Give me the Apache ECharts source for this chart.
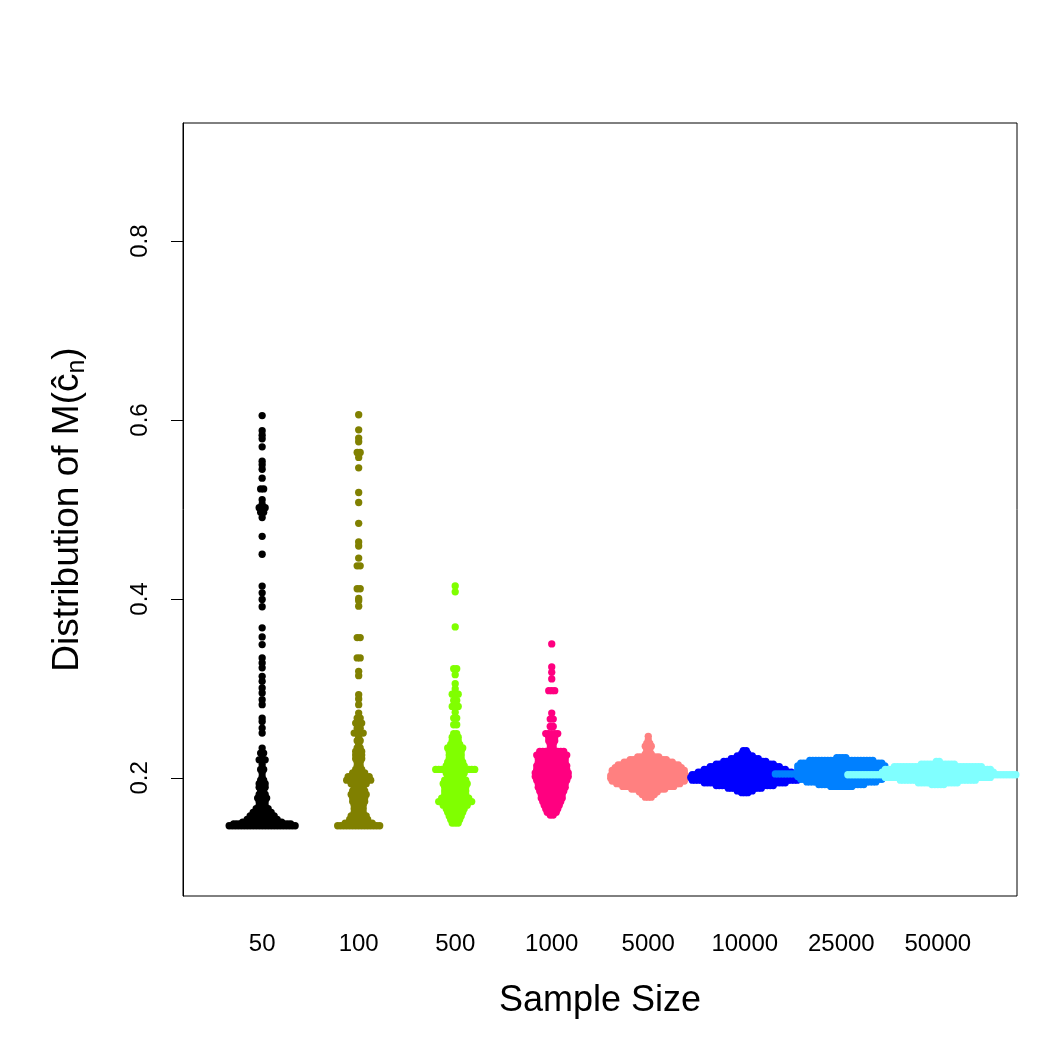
<!DOCTYPE html>
<html>
<head>
<meta charset="utf-8">
<script src="https://cdn.jsdelivr.net/npm/echarts/dist/echarts.min.js"></script>
<style>
html,body{margin:0;padding:0;background:#fff}
#main{width:1050px;height:1050px}
</style>
</head>
<body>
<div id="main"></div>
<script>
// sample sizes (x categories) and y tick values
var sizeLabels = ['50', '100', '500', '1000', '5000', '10000', '25000', '50000'];
var yTicks = [0.2, 0.4, 0.6, 0.8];

// dense part of each swarm: value levels and number of points at each level
// tail: single values (repeated value = points side by side)
var lev50 = [0.1465,0.1485,0.1505,0.1535,0.1575,0.1615,0.1655,0.1695,0.1735,0.1775,0.1815,0.1855,0.1895,0.1935,0.1975,0.2015,0.2055,0.2095];
var cnt50 = [23,20,14,11,9,7,5,3,3,4,3,2,3,3,2,1,1,2];
var tail50 = [0.2146,0.2202,0.2202,0.2202,0.222,0.2277,0.2277,0.2333,0.2501,0.2557,0.2631,0.2669,0.2818,0.2874,0.295,0.3005,0.308,0.3135,0.323,0.3285,0.334,0.349,0.3576,0.3677,0.3913,0.3994,0.4069,0.4144,0.450,0.470,0.491,0.497,0.497,0.502,0.502,0.502,0.506,0.511,0.523,0.523,0.535,0.545,0.550,0.554,0.570,0.579,0.583,0.588,0.605];

var lev100 = [0.1465,0.1495,0.1535,0.1575,0.1615,0.1655,0.1695,0.1735,0.1775,0.1815,0.1855,0.1895,0.1935,0.1975,0.2015,0.2055,0.2095,0.2135,0.2175,0.2215,0.2255,0.2295,0.2335,0.2375,0.2415,0.2455,0.2501,0.2555,0.2613,0.2669];
var cnt100 = [15,10,7,6,4,4,4,5,5,6,5,4,6,9,8,5,3,2,2,3,3,3,2,1,2,1,4,2,3,2];
var tail100 = [0.2725,0.2818,0.2882,0.293,0.3143,0.3191,0.3341,0.3341,0.3569,0.3569,0.392,0.398,0.4005,0.4114,0.4114,0.437,0.437,0.4457,0.4592,0.4637,0.4846,0.5078,0.519,0.5466,0.5582,0.5638,0.5638,0.5757,0.5798,0.5891,0.6059];

var lev500 = [0.1495,0.1535,0.1575,0.1615,0.1655,0.1695,0.1735,0.1775,0.1815,0.1855,0.1895,0.1935,0.1975,0.2015,0.2055,0.2095,0.2135,0.2175,0.2215,0.2255,0.2295,0.2335,0.2375,0.2415,0.2455,0.2495];
var cnt500 = [3,4,5,6,7,9,12,10,8,8,8,9,8,6,7,14,7,6,5,5,5,6,4,3,3,2];
var tail500 = [0.2594,0.2594,0.2669,0.2669,0.2735,0.2799,0.2799,0.2799,0.2865,0.2865,0.2936,0.2936,0.2936,0.2995,0.3053,0.3154,0.3221,0.3221,0.3688,0.408,0.4145];

var lev1000 = [0.1585,0.1615,0.1655,0.1695,0.1735,0.1775,0.1815,0.1855,0.1895,0.1935,0.1975,0.2015,0.2055,0.2095,0.2135,0.2175,0.2215,0.2255,0.2295,0.2335,0.2375,0.2415,0.2455,0.2495];
var cnt1000 = [2,4,5,6,7,8,8,9,10,10,11,12,12,11,11,10,10,11,9,2,2,3,3,5];
var tail1000 = [0.2575,0.2575,0.2658,0.2658,0.2725,0.2975,0.2975,0.2975,0.3106,0.318,0.324,0.3498];

var lev5000 = [0.1785,0.1815,0.1845,0.1875,0.1905,0.1935,0.1965,0.1995,0.2025,0.2055,0.2085,0.2115,0.2145,0.2175,0.2205,0.2235,0.2265,0.2295,0.2325,0.2355,0.2385,0.2425,0.2465];
var cnt5000 = [3,5,7,12,18,22,25,26,26,25,25,23,21,17,13,8,3,2,2,3,2,1,1];

var lev10000 = [0.1835,0.1855,0.1885,0.1915,0.1945,0.1975,0.2005,0.2035,0.2065,0.2095,0.2125,0.2155,0.2185,0.2215,0.2245,0.2275,0.2305];
var cnt10000 = [3,6,12,20,28,36,37,36,32,28,24,20,15,10,6,3,2];

var lev25000 = [0.1905,0.1925,0.1955,0.1985,0.2015,0.2045,0.2075,0.2105,0.2135,0.2165,0.2195,0.2225];
var cnt25000 = [8,16,24,28,30,45,30,30,30,28,22,4];

var lev50000 = [0.1925,0.1945,0.1975,0.2005,0.2035,0.2065,0.2095,0.2125,0.2155,0.2185];
var cnt50000 = [5,14,26,36,61,38,36,30,12,2];

var groups = [
    [lev50, cnt50, tail50],
    [lev100, cnt100, tail100],
    [lev500, cnt500, tail500],
    [lev1000, cnt1000, tail1000],
    [lev5000, cnt5000, []],
    [lev10000, cnt10000, []],
    [lev25000, cnt25000, []],
    [lev50000, cnt50000, []]
];
var colors = ['#000000', '#808000', '#80FF00', '#FF0080', '#FF8080', '#0000FF', '#0080FF', '#80FFFF'];

var xMin = 0.18, xMax = 8.82;
var pxPerUnit = (1017 - 183) / (xMax - xMin);
var step = 3; // px between neighbours in one row

// lay out one swarm: points of the same value sit side by side, centred on the group
function buildPoints(pos, lev, cnt, tail) {
    var rows = {};
    var order = [];
    function add(v, n) {
        var key = v.toFixed(4);
        if (!(key in rows)) { rows[key] = 0; order.push(v); }
        rows[key] += n;
    }
    lev.forEach(function (v, i) { add(v, cnt[i]); });
    tail.forEach(function (v) { add(v, 1); });
    var pts = [];
    order.forEach(function (v) {
        var n = rows[v.toFixed(4)];
        for (var k = 0; k < n; k++) {
            pts.push([pos + (k - (n - 1) / 2) * step / pxPerUnit, v]);
        }
    });
    return pts;
}

var series = groups.map(function (g, i) {
    return {
        name: sizeLabels[i],
        type: 'scatter',
        symbol: 'circle',
        symbolSize: 7.3,
        silent: true,
        clip: true,
        itemStyle: { color: colors[i], opacity: 1 },
        data: buildPoints(i + 1, g[0], g[1], g[2])
    };
});

var font = 'Liberation Sans, Arial, sans-serif';
var option = {
    animation: false,
    backgroundColor: '#fff',
    grid: {
        left: 183, right: 33, top: 123, bottom: 154,
        show: true, borderColor: '#000', borderWidth: 1
    },
    xAxis: {
        type: 'value', min: xMin, max: xMax,
        axisLine: { show: false },
        axisTick: { show: false },
        splitLine: { show: false },
        axisLabel: {
            customValues: [1, 2, 3, 4, 5, 6, 7, 8],
            formatter: function (v) { return sizeLabels[Math.round(v) - 1]; },
            fontSize: 24, color: '#000', fontFamily: font, margin: 36
        },
        name: 'Sample Size',
        nameLocation: 'middle',
        nameGap: 87,
        nameTextStyle: { fontSize: 36, color: '#000', fontFamily: font }
    },
    yAxis: {
        type: 'value', min: 0.068, max: 0.932,
        splitLine: { show: false },
        axisLine: { show: true, lineStyle: { color: '#000', width: 1 } },
        axisTick: { show: true, customValues: yTicks, length: 12, lineStyle: { color: '#000', width: 1 } },
        axisLabel: {
            customValues: yTicks,
            rotate: 90,
            formatter: function (v) { return v.toFixed(1); },
            fontSize: 24, color: '#000', fontFamily: font, margin: 31
        },
        name: '{a|Distribution of M(ĉ}{s|n}{a|)}',
        nameLocation: 'middle',
        nameRotate: 90,
        nameGap: 93,
        nameTextStyle: {
            color: '#000', fontFamily: font, fontSize: 37,
            rich: {
                a: { fontSize: 37, fontFamily: font, color: '#000', lineHeight: 44 },
                s: { fontSize: 25, fontFamily: font, color: '#000', lineHeight: 25, padding: [19, 0, 0, 0], verticalAlign: 'top' }
            }
        }
    },
    series: series
};

var chart = echarts.init(document.getElementById('main'));
chart.setOption(option);
window.addEventListener('resize', function () {
    chart.resize();
});
</script>
</body>
</html>
